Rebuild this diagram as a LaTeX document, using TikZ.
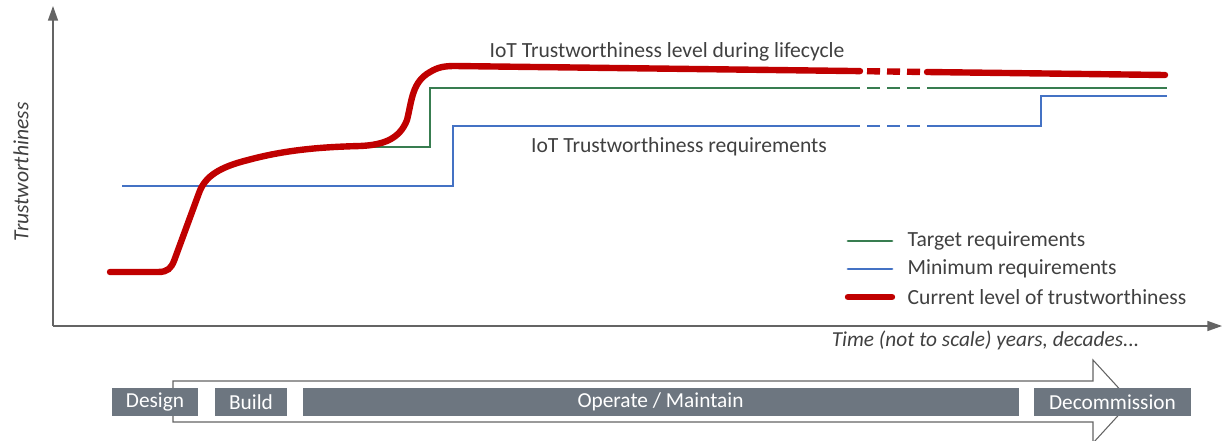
\documentclass[tikz,border=0pt]{standalone}
\usepackage{fontspec}
\setmainfont{Carlito}
\usetikzlibrary{arrows.meta}

\definecolor{axisgray}{RGB}{100,100,100}
\definecolor{textgray}{RGB}{64,64,64}
\definecolor{phasegray}{RGB}{109,118,128}
\definecolor{mingreen}{RGB}{56,125,80}
\definecolor{minblue}{RGB}{68,114,196}
\definecolor{levelred}{RGB}{192,0,0}

\begin{document}
\begin{tikzpicture}[
  x=0.75pt,y=-0.75pt,
  axis/.style={-{Triangle[length=11pt,width=7.5pt]},draw=axisgray,line width=1.1pt},
  target/.style={draw=mingreen,line width=2.1pt},
  minimum/.style={draw=minblue,line width=2.2pt},
  level/.style={draw=levelred,line width=4.8pt},
  gap/.style={dash pattern=on 9.75pt off 5.25pt,dash phase=9.75pt},
  label/.style={text=textgray,font=\fontsize{16.2}{19}\selectfont},
  phase/.style={fill=phasegray,text=white,font=\fontsize{16}{19}\selectfont,
    minimum height=21pt,inner sep=0pt}
]
  \useasboundingbox (0,0) rectangle (1223,440);

  % axes
  \coordinate (origin) at (53,326);
  \draw[axis] (origin) -- (53,6);
  \draw[axis] (origin) -- (1222,326);
  \node[label,rotate=90,font=\fontsize{16.2}{19}\selectfont\itshape] (ylabel) at (21,172) {Trustworthiness};
  \node[label,anchor=east,font=\fontsize{16}{19}\selectfont\itshape] (xlabel) at (1144,340) {Time (not to scale) years, decades...};

  % minimum requirements
  \draw[minimum] (122,186) -- (453,186) -- (453,126) -- (860,126);
  \draw[minimum,gap] (860,126) -- (927,126);
  \draw[minimum] (927,126) -- (1041,126) -- (1041,96) -- (1167,96);

  % target requirements
  \draw[target] (347,147) -- (430,147) -- (430,88) -- (860,88);
  \draw[target,gap] (860,88) -- (927,88);
  \draw[target] (927,88) -- (1167,88);

  % current level
  \draw[level,line cap=round] (110,272) -- (158,272)
    .. controls (168,272) and (171,268) .. (174,261) -- (199,193)
    .. controls (205,176) and (220,167) .. (248,160)
    .. controls (285,150) and (320,147) .. (360,146)
    .. controls (385,145) and (400,138) .. (407,120)
    .. controls (412,100) and (412,82) .. (430,72)
    .. controls (438,67) and (445,66) .. (455,66) -- (860,71.1);
  \draw[level,gap] (860,71.1) -- (927,72);
  \draw[level,line cap=round] (927,72) -- (1165,75);

  \node[label] (leveltitle) at (667,52) {IoT Trustworthiness level during lifecycle};
  \node[label] (reqtitle) at (679,147) {IoT Trustworthiness requirements};

  % legend
  \foreach \y/\kind/\txt in {241/target/Target requirements,
      269/minimum/Minimum requirements,
      297/level/Current level of trustworthiness}{
    \draw[\kind,line cap=round] (848,\y) -- (892,\y);
    \node[label,anchor=west] at (903,\y) {\txt};
  }

  % lifecycle arrow and phases
  \draw[draw=axisgray,fill=white,line width=0.8pt] (173,381) -- (1093,381) -- (1093,360)
    -- (1131,401.5) -- (1093,443) -- (1093,422) -- (173,422) -- cycle;
  \node[phase,minimum width=64.5pt] (design) at (155,402) {Design};
  \node[phase,minimum width=54pt] (build) at (251,402) {Build};
  \node[phase,minimum width=537pt] (operate) at (660.5,402) {Operate / Maintain};
  \node[phase,minimum width=118pt] (decommission) at (1112.5,402) {Decommission};
\end{tikzpicture}
\end{document}
